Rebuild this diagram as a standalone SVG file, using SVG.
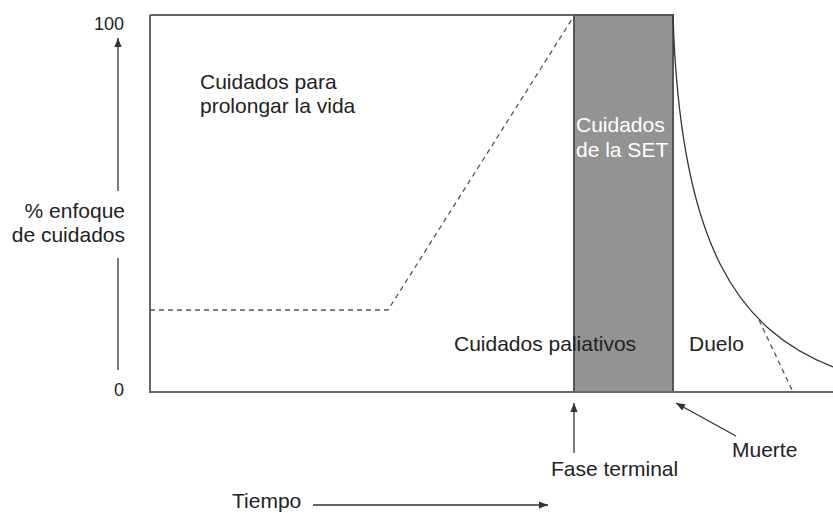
<svg xmlns="http://www.w3.org/2000/svg" width="833" height="513" viewBox="0 0 833 513">
<style>
text{font-family:"Liberation Sans",Arial,sans-serif;font-size:21px;fill:#222}
.num{font-size:18px}
.ax{stroke:#666;stroke-width:2;fill:none}
.ln{stroke:#333;stroke-width:1.3;fill:none}
.dash{stroke:#555;stroke-width:1.3;fill:none;stroke-dasharray:5,4}
</style>
<defs>
<marker id="ah" viewBox="0 0 10 10" refX="10" refY="5" markerWidth="10" markerHeight="9" markerUnits="userSpaceOnUse" orient="auto">
<path d="M0,1 L10,5 L0,9 z" fill="#333"/>
</marker>
</defs>
<rect width="833" height="513" fill="#fff"/>
<g id="set-band">
<rect x="574" y="15" width="99" height="377" fill="#939393" stroke="#555" stroke-width="2"/>
<text x="576" y="132" style="fill:#fff">Cuidados</text>
<text x="576" y="157" style="fill:#fff">de la SET</text>
</g>
<g id="frame">
<path class="ax" d="M150,15 L574,15 M150,15 L150,392 L833,392"/>
</g>
<g id="curves">
<path class="dash" d="M150,310 L388,310 L574,16"/>
<path class="ln" d="M673,15 C680,250 740,330 833,367"/>
<path class="dash" d="M759,320 L793,392"/>
</g>
<g id="yaxis">
<path class="ln" d="M118,191 L118,38" marker-end="url(#ah)"/>
<path class="ln" d="M118,258 L118,370"/>
<text class="num" x="124" y="30" text-anchor="end">100</text>
<text class="num" x="119" y="396" text-anchor="middle">0</text>
<text x="125" y="218" text-anchor="end">% enfoque</text>
<text x="125" y="242" text-anchor="end">de cuidados</text>
</g>
<g id="labels">
<text x="200" y="89">Cuidados para</text>
<text x="200" y="113">prolongar la vida</text>
<text x="454" y="351">Cuidados paliativos</text>
<text x="689" y="351">Duelo</text>
</g>
<g id="connectors">
<path class="ln" d="M574,453 L574,403" marker-end="url(#ah)"/>
<path class="ln" d="M736,436 L676,403" marker-end="url(#ah)"/>
<path class="ln" d="M313,505 L548,505" marker-end="url(#ah)"/>
</g>
<g id="axis-labels">
<text x="551" y="476">Fase terminal</text>
<text x="732" y="457">Muerte</text>
<text x="232" y="508">Tiempo</text>
</g>
</svg>
